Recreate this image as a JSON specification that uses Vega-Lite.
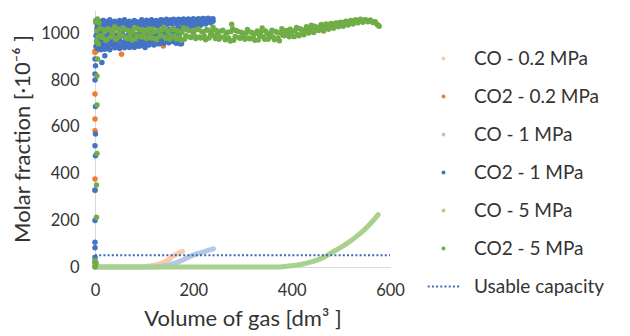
{
  "$schema": "https://vega.github.io/schema/vega-lite/v6.json",
  "width": 295,
  "height": 257,
  "autosize": {"type": "none"},
  "padding": {"left": 95, "top": 10, "right": 240, "bottom": 69},
  "background": "white",
  "config": {
    "view": {"stroke": null},
    "font": "Lato",
    "axis": {"domainColor": "#D9D9D9", "domainWidth": 1, "ticks": false, "grid": false, "labelFlush": false, "labelFont": "Lato", "labelFontSize": 16.5, "labelColor": "#333333", "titleFont": "Lato", "titleFontSize": 22, "titleFontWeight": "normal", "titleColor": "#333333"},
    "legend": {"orient": "none", "legendX": 339, "legendY": 39, "title": null, "labelFont": "Lato", "labelFontSize": 19, "labelColor": "#333333", "labelOffset": 21, "symbolType": "circle", "symbolSize": 16, "rowPadding": 18, "labelLimit": 300}
  },
  "datasets": {
    "co": [
      {"s": "CO - 0.2 MPa", "x": 0, "y": 0}, {"s": "CO - 0.2 MPa", "x": 90, "y": 0}, {"s": "CO - 0.2 MPa", "x": 100, "y": 2}, {"s": "CO - 0.2 MPa", "x": 110, "y": 4}, {"s": "CO - 0.2 MPa", "x": 120, "y": 8}, {"s": "CO - 0.2 MPa", "x": 130, "y": 13}, {"s": "CO - 0.2 MPa", "x": 140, "y": 20}, {"s": "CO - 0.2 MPa", "x": 150, "y": 32}, {"s": "CO - 0.2 MPa", "x": 159, "y": 47}, {"s": "CO - 0.2 MPa", "x": 168, "y": 58}, {"s": "CO - 0.2 MPa", "x": 178, "y": 67},
      {"s": "CO - 1 MPa", "x": 0, "y": 0}, {"s": "CO - 1 MPa", "x": 120, "y": 0}, {"s": "CO - 1 MPa", "x": 130, "y": 2}, {"s": "CO - 1 MPa", "x": 150, "y": 9}, {"s": "CO - 1 MPa", "x": 170, "y": 22}, {"s": "CO - 1 MPa", "x": 185, "y": 36}, {"s": "CO - 1 MPa", "x": 193, "y": 45}, {"s": "CO - 1 MPa", "x": 210, "y": 58}, {"s": "CO - 1 MPa", "x": 225, "y": 68}, {"s": "CO - 1 MPa", "x": 241, "y": 78},
      {"s": "CO - 5 MPa", "x": 0, "y": 0}, {"s": "CO - 5 MPa", "x": 200, "y": 0}, {"s": "CO - 5 MPa", "x": 370, "y": 0}, {"s": "CO - 5 MPa", "x": 385, "y": 2}, {"s": "CO - 5 MPa", "x": 400, "y": 5}, {"s": "CO - 5 MPa", "x": 420, "y": 12}, {"s": "CO - 5 MPa", "x": 440, "y": 22}, {"s": "CO - 5 MPa", "x": 460, "y": 36}, {"s": "CO - 5 MPa", "x": 471, "y": 49}, {"s": "CO - 5 MPa", "x": 490, "y": 72}, {"s": "CO - 5 MPa", "x": 512, "y": 100}, {"s": "CO - 5 MPa", "x": 530, "y": 128}, {"s": "CO - 5 MPa", "x": 546, "y": 156}, {"s": "CO - 5 MPa", "x": 560, "y": 185}, {"s": "CO - 5 MPa", "x": 576, "y": 224}
    ],
    "co2": [
      {"s": "CO2 - 0.2 MPa", "x": 0, "y": 918}, {"s": "CO2 - 0.2 MPa", "x": 0, "y": 740}, {"s": "CO2 - 0.2 MPa", "x": 0, "y": 633}, {"s": "CO2 - 0.2 MPa", "x": 0, "y": 583}, {"s": "CO2 - 0.2 MPa", "x": 0, "y": 377}, {"s": "CO2 - 0.2 MPa", "x": 0, "y": 327}, {"s": "CO2 - 0.2 MPa", "x": 0, "y": 5}, {"s": "CO2 - 0.2 MPa", "x": 1, "y": 15}, {"s": "CO2 - 0.2 MPa", "x": 0, "y": 925},
      {"s": "CO2 - 0.2 MPa", "x": 2, "y": 1045}, {"s": "CO2 - 0.2 MPa", "x": 3, "y": 925}, {"s": "CO2 - 0.2 MPa", "x": 4, "y": 1000}, {"s": "CO2 - 0.2 MPa", "x": 5, "y": 970}, {"s": "CO2 - 0.2 MPa", "x": 6, "y": 1050}, {"s": "CO2 - 0.2 MPa", "x": 8, "y": 960}, {"s": "CO2 - 0.2 MPa", "x": 10, "y": 1020}, {"s": "CO2 - 0.2 MPa", "x": 12, "y": 945}, {"s": "CO2 - 0.2 MPa", "x": 15, "y": 990}, {"s": "CO2 - 0.2 MPa", "x": 18, "y": 1055}, {"s": "CO2 - 0.2 MPa", "x": 20, "y": 960}, {"s": "CO2 - 0.2 MPa", "x": 24, "y": 1010}, {"s": "CO2 - 0.2 MPa", "x": 28, "y": 940}, {"s": "CO2 - 0.2 MPa", "x": 30, "y": 1040}, {"s": "CO2 - 0.2 MPa", "x": 34, "y": 975}, {"s": "CO2 - 0.2 MPa", "x": 38, "y": 1050}, {"s": "CO2 - 0.2 MPa", "x": 41, "y": 939}, {"s": "CO2 - 0.2 MPa", "x": 45, "y": 995}, {"s": "CO2 - 0.2 MPa", "x": 50, "y": 960}, {"s": "CO2 - 0.2 MPa", "x": 54, "y": 911}, {"s": "CO2 - 0.2 MPa", "x": 58, "y": 1020}, {"s": "CO2 - 0.2 MPa", "x": 62, "y": 950}, {"s": "CO2 - 0.2 MPa", "x": 66, "y": 1045}, {"s": "CO2 - 0.2 MPa", "x": 70, "y": 985}, {"s": "CO2 - 0.2 MPa", "x": 75, "y": 955}, {"s": "CO2 - 0.2 MPa", "x": 80, "y": 1050}, {"s": "CO2 - 0.2 MPa", "x": 85, "y": 946}, {"s": "CO2 - 0.2 MPa", "x": 90, "y": 1000}, {"s": "CO2 - 0.2 MPa", "x": 95, "y": 965}, {"s": "CO2 - 0.2 MPa", "x": 100, "y": 1052}, {"s": "CO2 - 0.2 MPa", "x": 105, "y": 955}, {"s": "CO2 - 0.2 MPa", "x": 110, "y": 1015}, {"s": "CO2 - 0.2 MPa", "x": 115, "y": 970}, {"s": "CO2 - 0.2 MPa", "x": 118, "y": 1053}, {"s": "CO2 - 0.2 MPa", "x": 122, "y": 960}, {"s": "CO2 - 0.2 MPa", "x": 126, "y": 1045}, {"s": "CO2 - 0.2 MPa", "x": 130, "y": 1000}, {"s": "CO2 - 0.2 MPa", "x": 134, "y": 1058}, {"s": "CO2 - 0.2 MPa", "x": 139, "y": 946}, {"s": "CO2 - 0.2 MPa", "x": 142, "y": 1050}, {"s": "CO2 - 0.2 MPa", "x": 146, "y": 985}, {"s": "CO2 - 0.2 MPa", "x": 150, "y": 1056}, {"s": "CO2 - 0.2 MPa", "x": 154, "y": 965}, {"s": "CO2 - 0.2 MPa", "x": 158, "y": 1052}, {"s": "CO2 - 0.2 MPa", "x": 162, "y": 1000}, {"s": "CO2 - 0.2 MPa", "x": 166, "y": 1055}, {"s": "CO2 - 0.2 MPa", "x": 170, "y": 975}, {"s": "CO2 - 0.2 MPa", "x": 173, "y": 1053}, {"s": "CO2 - 0.2 MPa", "x": 176, "y": 1020}, {"s": "CO2 - 0.2 MPa", "x": 180, "y": 1050},

      {"s": "CO2 - 1 MPa", "x": 0, "y": 890}, {"s": "CO2 - 1 MPa", "x": 1, "y": 861}, {"s": "CO2 - 1 MPa", "x": 0, "y": 826}, {"s": "CO2 - 1 MPa", "x": 0, "y": 800}, {"s": "CO2 - 1 MPa", "x": 1, "y": 687}, {"s": "CO2 - 1 MPa", "x": 1, "y": 569}, {"s": "CO2 - 1 MPa", "x": 0, "y": 519}, {"s": "CO2 - 1 MPa", "x": 1, "y": 476}, {"s": "CO2 - 1 MPa", "x": 0, "y": 330}, {"s": "CO2 - 1 MPa", "x": 0, "y": 199}, {"s": "CO2 - 1 MPa", "x": 0, "y": 106}, {"s": "CO2 - 1 MPa", "x": 0, "y": 82}, {"s": "CO2 - 1 MPa", "x": 0, "y": 42}, {"s": "CO2 - 1 MPa", "x": 0, "y": 20}, {"s": "CO2 - 1 MPa", "x": 14, "y": 875}, {"s": "CO2 - 1 MPa", "x": 20, "y": 904}, {"s": "CO2 - 1 MPa", "x": 20, "y": 932}, {"s": "CO2 - 1 MPa", "x": 102, "y": 939}, {"s": "CO2 - 1 MPa", "x": 176, "y": 956}, {"s": "CO2 - 1 MPa", "x": 173, "y": 956},
      {"s": "CO2 - 1 MPa", "x": 2, "y": 1055}, {"s": "CO2 - 1 MPa", "x": 2, "y": 990}, {"s": "CO2 - 1 MPa", "x": 2, "y": 945},
      {"s": "CO2 - 1 MPa", "x": 5, "y": 1030}, {"s": "CO2 - 1 MPa", "x": 5, "y": 960}, {"s": "CO2 - 1 MPa", "x": 5, "y": 935},
      {"s": "CO2 - 1 MPa", "x": 8, "y": 1050}, {"s": "CO2 - 1 MPa", "x": 8, "y": 1000}, {"s": "CO2 - 1 MPa", "x": 8, "y": 940},
      {"s": "CO2 - 1 MPa", "x": 12, "y": 1045}, {"s": "CO2 - 1 MPa", "x": 12, "y": 975}, {"s": "CO2 - 1 MPa", "x": 12, "y": 930},
      {"s": "CO2 - 1 MPa", "x": 16, "y": 1055}, {"s": "CO2 - 1 MPa", "x": 16, "y": 1010}, {"s": "CO2 - 1 MPa", "x": 16, "y": 950},
      {"s": "CO2 - 1 MPa", "x": 20, "y": 1040}, {"s": "CO2 - 1 MPa", "x": 20, "y": 960}, {"s": "CO2 - 1 MPa", "x": 20, "y": 935},
      {"s": "CO2 - 1 MPa", "x": 25, "y": 1050}, {"s": "CO2 - 1 MPa", "x": 25, "y": 995}, {"s": "CO2 - 1 MPa", "x": 25, "y": 945},
      {"s": "CO2 - 1 MPa", "x": 30, "y": 1058}, {"s": "CO2 - 1 MPa", "x": 30, "y": 970}, {"s": "CO2 - 1 MPa", "x": 30, "y": 930},
      {"s": "CO2 - 1 MPa", "x": 35, "y": 1045}, {"s": "CO2 - 1 MPa", "x": 35, "y": 1005}, {"s": "CO2 - 1 MPa", "x": 35, "y": 950},
      {"s": "CO2 - 1 MPa", "x": 40, "y": 1052}, {"s": "CO2 - 1 MPa", "x": 40, "y": 965}, {"s": "CO2 - 1 MPa", "x": 40, "y": 938},
      {"s": "CO2 - 1 MPa", "x": 45, "y": 1040}, {"s": "CO2 - 1 MPa", "x": 45, "y": 990}, {"s": "CO2 - 1 MPa", "x": 45, "y": 955},
      {"s": "CO2 - 1 MPa", "x": 50, "y": 1055}, {"s": "CO2 - 1 MPa", "x": 50, "y": 975}, {"s": "CO2 - 1 MPa", "x": 50, "y": 935},
      {"s": "CO2 - 1 MPa", "x": 55, "y": 1048}, {"s": "CO2 - 1 MPa", "x": 55, "y": 1000}, {"s": "CO2 - 1 MPa", "x": 55, "y": 945},
      {"s": "CO2 - 1 MPa", "x": 60, "y": 1058}, {"s": "CO2 - 1 MPa", "x": 60, "y": 960}, {"s": "CO2 - 1 MPa", "x": 60, "y": 938},
      {"s": "CO2 - 1 MPa", "x": 65, "y": 1045}, {"s": "CO2 - 1 MPa", "x": 65, "y": 990}, {"s": "CO2 - 1 MPa", "x": 65, "y": 952},
      {"s": "CO2 - 1 MPa", "x": 70, "y": 1052}, {"s": "CO2 - 1 MPa", "x": 70, "y": 970}, {"s": "CO2 - 1 MPa", "x": 70, "y": 940},
      {"s": "CO2 - 1 MPa", "x": 75, "y": 1040}, {"s": "CO2 - 1 MPa", "x": 75, "y": 1005}, {"s": "CO2 - 1 MPa", "x": 75, "y": 958},
      {"s": "CO2 - 1 MPa", "x": 80, "y": 1055}, {"s": "CO2 - 1 MPa", "x": 80, "y": 980}, {"s": "CO2 - 1 MPa", "x": 80, "y": 940},
      {"s": "CO2 - 1 MPa", "x": 85, "y": 1050}, {"s": "CO2 - 1 MPa", "x": 85, "y": 965}, {"s": "CO2 - 1 MPa", "x": 85, "y": 952},
      {"s": "CO2 - 1 MPa", "x": 90, "y": 1045}, {"s": "CO2 - 1 MPa", "x": 90, "y": 995}, {"s": "CO2 - 1 MPa", "x": 90, "y": 945},
      {"s": "CO2 - 1 MPa", "x": 95, "y": 1058}, {"s": "CO2 - 1 MPa", "x": 95, "y": 975}, {"s": "CO2 - 1 MPa", "x": 95, "y": 960},
      {"s": "CO2 - 1 MPa", "x": 100, "y": 1050}, {"s": "CO2 - 1 MPa", "x": 100, "y": 1000}, {"s": "CO2 - 1 MPa", "x": 100, "y": 945},
      {"s": "CO2 - 1 MPa", "x": 105, "y": 1056}, {"s": "CO2 - 1 MPa", "x": 105, "y": 970}, {"s": "CO2 - 1 MPa", "x": 105, "y": 958},
      {"s": "CO2 - 1 MPa", "x": 110, "y": 1045}, {"s": "CO2 - 1 MPa", "x": 110, "y": 990}, {"s": "CO2 - 1 MPa", "x": 110, "y": 950},
      {"s": "CO2 - 1 MPa", "x": 115, "y": 1058}, {"s": "CO2 - 1 MPa", "x": 115, "y": 980}, {"s": "CO2 - 1 MPa", "x": 115, "y": 962},
      {"s": "CO2 - 1 MPa", "x": 120, "y": 1050}, {"s": "CO2 - 1 MPa", "x": 120, "y": 1000}, {"s": "CO2 - 1 MPa", "x": 120, "y": 950},
      {"s": "CO2 - 1 MPa", "x": 125, "y": 1055}, {"s": "CO2 - 1 MPa", "x": 125, "y": 975}, {"s": "CO2 - 1 MPa", "x": 125, "y": 960},
      {"s": "CO2 - 1 MPa", "x": 130, "y": 1048}, {"s": "CO2 - 1 MPa", "x": 130, "y": 1005}, {"s": "CO2 - 1 MPa", "x": 130, "y": 955},
      {"s": "CO2 - 1 MPa", "x": 135, "y": 1058}, {"s": "CO2 - 1 MPa", "x": 135, "y": 985}, {"s": "CO2 - 1 MPa", "x": 135, "y": 965},
      {"s": "CO2 - 1 MPa", "x": 140, "y": 1052}, {"s": "CO2 - 1 MPa", "x": 140, "y": 1010}, {"s": "CO2 - 1 MPa", "x": 140, "y": 958},
      {"s": "CO2 - 1 MPa", "x": 145, "y": 1060}, {"s": "CO2 - 1 MPa", "x": 145, "y": 990}, {"s": "CO2 - 1 MPa", "x": 145, "y": 968},
      {"s": "CO2 - 1 MPa", "x": 150, "y": 1055}, {"s": "CO2 - 1 MPa", "x": 150, "y": 1015}, {"s": "CO2 - 1 MPa", "x": 150, "y": 960},
      {"s": "CO2 - 1 MPa", "x": 155, "y": 1058}, {"s": "CO2 - 1 MPa", "x": 155, "y": 995}, {"s": "CO2 - 1 MPa", "x": 155, "y": 970},
      {"s": "CO2 - 1 MPa", "x": 160, "y": 1060}, {"s": "CO2 - 1 MPa", "x": 160, "y": 1020}, {"s": "CO2 - 1 MPa", "x": 160, "y": 965},
      {"s": "CO2 - 1 MPa", "x": 165, "y": 1055}, {"s": "CO2 - 1 MPa", "x": 165, "y": 1000}, {"s": "CO2 - 1 MPa", "x": 165, "y": 958},
      {"s": "CO2 - 1 MPa", "x": 170, "y": 1060}, {"s": "CO2 - 1 MPa", "x": 170, "y": 1025}, {"s": "CO2 - 1 MPa", "x": 170, "y": 975},
      {"s": "CO2 - 1 MPa", "x": 175, "y": 1058}, {"s": "CO2 - 1 MPa", "x": 175, "y": 1010},
      {"s": "CO2 - 1 MPa", "x": 180, "y": 1062}, {"s": "CO2 - 1 MPa", "x": 180, "y": 1035},
      {"s": "CO2 - 1 MPa", "x": 185, "y": 1057}, {"s": "CO2 - 1 MPa", "x": 185, "y": 1020},
      {"s": "CO2 - 1 MPa", "x": 190, "y": 1062}, {"s": "CO2 - 1 MPa", "x": 190, "y": 1040},
      {"s": "CO2 - 1 MPa", "x": 195, "y": 1058}, {"s": "CO2 - 1 MPa", "x": 195, "y": 1025},
      {"s": "CO2 - 1 MPa", "x": 200, "y": 1063}, {"s": "CO2 - 1 MPa", "x": 200, "y": 1042},
      {"s": "CO2 - 1 MPa", "x": 205, "y": 1058}, {"s": "CO2 - 1 MPa", "x": 205, "y": 1030},
      {"s": "CO2 - 1 MPa", "x": 210, "y": 1063}, {"s": "CO2 - 1 MPa", "x": 210, "y": 1045},
      {"s": "CO2 - 1 MPa", "x": 215, "y": 1060}, {"s": "CO2 - 1 MPa", "x": 215, "y": 1035},
      {"s": "CO2 - 1 MPa", "x": 220, "y": 1064}, {"s": "CO2 - 1 MPa", "x": 220, "y": 1048},
      {"s": "CO2 - 1 MPa", "x": 225, "y": 1060}, {"s": "CO2 - 1 MPa", "x": 225, "y": 1040},
      {"s": "CO2 - 1 MPa", "x": 230, "y": 1065}, {"s": "CO2 - 1 MPa", "x": 230, "y": 1050},
      {"s": "CO2 - 1 MPa", "x": 235, "y": 1060}, {"s": "CO2 - 1 MPa", "x": 235, "y": 1045},
      {"s": "CO2 - 1 MPa", "x": 240, "y": 1063}, {"s": "CO2 - 1 MPa", "x": 240, "y": 1052},
      {"s": "CO2 - 1 MPa", "x": 4, "y": 1020}, {"s": "CO2 - 1 MPa", "x": 4, "y": 970}, {"s": "CO2 - 1 MPa", "x": 7, "y": 1040}, {"s": "CO2 - 1 MPa", "x": 7, "y": 950}, {"s": "CO2 - 1 MPa", "x": 10, "y": 1010}, {"s": "CO2 - 1 MPa", "x": 10, "y": 960}, {"s": "CO2 - 1 MPa", "x": 14, "y": 1035}, {"s": "CO2 - 1 MPa", "x": 14, "y": 985}, {"s": "CO2 - 1 MPa", "x": 18, "y": 1025}, {"s": "CO2 - 1 MPa", "x": 18, "y": 945},
      {"s": "CO2 - 1 MPa", "x": 22, "y": 1048}, {"s": "CO2 - 1 MPa", "x": 22, "y": 980}, {"s": "CO2 - 1 MPa", "x": 27, "y": 1030}, {"s": "CO2 - 1 MPa", "x": 27, "y": 955}, {"s": "CO2 - 1 MPa", "x": 32, "y": 1040}, {"s": "CO2 - 1 MPa", "x": 32, "y": 990}, {"s": "CO2 - 1 MPa", "x": 37, "y": 1025}, {"s": "CO2 - 1 MPa", "x": 37, "y": 960}, {"s": "CO2 - 1 MPa", "x": 42, "y": 1035}, {"s": "CO2 - 1 MPa", "x": 42, "y": 985},
      {"s": "CO2 - 1 MPa", "x": 47, "y": 1020}, {"s": "CO2 - 1 MPa", "x": 47, "y": 945}, {"s": "CO2 - 1 MPa", "x": 52, "y": 1038}, {"s": "CO2 - 1 MPa", "x": 52, "y": 990}, {"s": "CO2 - 1 MPa", "x": 57, "y": 1028}, {"s": "CO2 - 1 MPa", "x": 57, "y": 960}, {"s": "CO2 - 1 MPa", "x": 62, "y": 1042}, {"s": "CO2 - 1 MPa", "x": 62, "y": 980}, {"s": "CO2 - 1 MPa", "x": 67, "y": 1022}, {"s": "CO2 - 1 MPa", "x": 67, "y": 945},
      {"s": "CO2 - 1 MPa", "x": 72, "y": 1035}, {"s": "CO2 - 1 MPa", "x": 72, "y": 990}, {"s": "CO2 - 1 MPa", "x": 77, "y": 1025}, {"s": "CO2 - 1 MPa", "x": 77, "y": 965}, {"s": "CO2 - 1 MPa", "x": 82, "y": 1040}, {"s": "CO2 - 1 MPa", "x": 82, "y": 995}, {"s": "CO2 - 1 MPa", "x": 87, "y": 1030}, {"s": "CO2 - 1 MPa", "x": 87, "y": 960}, {"s": "CO2 - 1 MPa", "x": 92, "y": 1045}, {"s": "CO2 - 1 MPa", "x": 92, "y": 980},
      {"s": "CO2 - 1 MPa", "x": 97, "y": 1032}, {"s": "CO2 - 1 MPa", "x": 97, "y": 950}, {"s": "CO2 - 1 MPa", "x": 102, "y": 1040}, {"s": "CO2 - 1 MPa", "x": 102, "y": 990}, {"s": "CO2 - 1 MPa", "x": 107, "y": 1028}, {"s": "CO2 - 1 MPa", "x": 107, "y": 965}, {"s": "CO2 - 1 MPa", "x": 112, "y": 1045}, {"s": "CO2 - 1 MPa", "x": 112, "y": 1000}, {"s": "CO2 - 1 MPa", "x": 117, "y": 1035}, {"s": "CO2 - 1 MPa", "x": 117, "y": 968},
      {"s": "CO2 - 1 MPa", "x": 122, "y": 1042}, {"s": "CO2 - 1 MPa", "x": 122, "y": 990}, {"s": "CO2 - 1 MPa", "x": 127, "y": 1030}, {"s": "CO2 - 1 MPa", "x": 127, "y": 968}, {"s": "CO2 - 1 MPa", "x": 132, "y": 1048}, {"s": "CO2 - 1 MPa", "x": 132, "y": 990}, {"s": "CO2 - 1 MPa", "x": 137, "y": 1035}, {"s": "CO2 - 1 MPa", "x": 137, "y": 972}, {"s": "CO2 - 1 MPa", "x": 142, "y": 1045}, {"s": "CO2 - 1 MPa", "x": 142, "y": 995},
      {"s": "CO2 - 1 MPa", "x": 147, "y": 1038}, {"s": "CO2 - 1 MPa", "x": 147, "y": 975}, {"s": "CO2 - 1 MPa", "x": 152, "y": 1048}, {"s": "CO2 - 1 MPa", "x": 152, "y": 1000}, {"s": "CO2 - 1 MPa", "x": 157, "y": 1040}, {"s": "CO2 - 1 MPa", "x": 157, "y": 980}, {"s": "CO2 - 1 MPa", "x": 162, "y": 1050}, {"s": "CO2 - 1 MPa", "x": 162, "y": 1005}, {"s": "CO2 - 1 MPa", "x": 167, "y": 1040}, {"s": "CO2 - 1 MPa", "x": 167, "y": 985},
      {"s": "CO2 - 1 MPa", "x": 172, "y": 1050}, {"s": "CO2 - 1 MPa", "x": 172, "y": 1000}, {"s": "CO2 - 1 MPa", "x": 177, "y": 1045}, {"s": "CO2 - 1 MPa", "x": 182, "y": 1052}, {"s": "CO2 - 1 MPa", "x": 187, "y": 1045}, {"s": "CO2 - 1 MPa", "x": 192, "y": 1055}, {"s": "CO2 - 1 MPa", "x": 197, "y": 1048}, {"s": "CO2 - 1 MPa", "x": 202, "y": 1055}, {"s": "CO2 - 1 MPa", "x": 207, "y": 1050}, {"s": "CO2 - 1 MPa", "x": 212, "y": 1055},
      {"s": "CO2 - 1 MPa", "x": 217, "y": 1050}, {"s": "CO2 - 1 MPa", "x": 222, "y": 1058}, {"s": "CO2 - 1 MPa", "x": 227, "y": 1052}, {"s": "CO2 - 1 MPa", "x": 232, "y": 1058}, {"s": "CO2 - 1 MPa", "x": 237, "y": 1055},

      {"s": "CO2 - 5 MPa", "x": 0, "y": 0}, {"s": "CO2 - 5 MPa", "x": 1, "y": 8}, {"s": "CO2 - 5 MPa", "x": 2, "y": 18}, {"s": "CO2 - 5 MPa", "x": 0, "y": 28}, {"s": "CO2 - 5 MPa", "x": 3, "y": 213}, {"s": "CO2 - 5 MPa", "x": 3, "y": 351}, {"s": "CO2 - 5 MPa", "x": 4, "y": 486}, {"s": "CO2 - 5 MPa", "x": 4, "y": 693}, {"s": "CO2 - 5 MPa", "x": 4, "y": 818}, {"s": "CO2 - 5 MPa", "x": 5, "y": 890}, {"s": "CO2 - 5 MPa", "x": 7, "y": 954}, {"s": "CO2 - 5 MPa", "x": 2, "y": 1050}, {"s": "CO2 - 5 MPa", "x": 5, "y": 1062}, {"s": "CO2 - 5 MPa", "x": 8, "y": 1045}, {"s": "CO2 - 5 MPa", "x": 4, "y": 1010}, {"s": "CO2 - 5 MPa", "x": 6, "y": 985}, {"s": "CO2 - 5 MPa", "x": 3, "y": 965}, {"s": "CO2 - 5 MPa", "x": 278, "y": 1039},
      {"s": "CO2 - 5 MPa", "x": 10, "y": 1022}, {"s": "CO2 - 5 MPa", "x": 15, "y": 982}, {"s": "CO2 - 5 MPa", "x": 20, "y": 1008}, {"s": "CO2 - 5 MPa", "x": 25, "y": 975}, {"s": "CO2 - 5 MPa", "x": 30, "y": 1015}, {"s": "CO2 - 5 MPa", "x": 35, "y": 995}, {"s": "CO2 - 5 MPa", "x": 40, "y": 1028}, {"s": "CO2 - 5 MPa", "x": 45, "y": 980}, {"s": "CO2 - 5 MPa", "x": 50, "y": 1003}, {"s": "CO2 - 5 MPa", "x": 55, "y": 988},
      {"s": "CO2 - 5 MPa", "x": 60, "y": 1018}, {"s": "CO2 - 5 MPa", "x": 65, "y": 978}, {"s": "CO2 - 5 MPa", "x": 70, "y": 1010}, {"s": "CO2 - 5 MPa", "x": 75, "y": 972}, {"s": "CO2 - 5 MPa", "x": 80, "y": 1025}, {"s": "CO2 - 5 MPa", "x": 85, "y": 992}, {"s": "CO2 - 5 MPa", "x": 90, "y": 1014}, {"s": "CO2 - 5 MPa", "x": 95, "y": 984}, {"s": "CO2 - 5 MPa", "x": 100, "y": 1003}, {"s": "CO2 - 5 MPa", "x": 105, "y": 978},
      {"s": "CO2 - 5 MPa", "x": 110, "y": 1020}, {"s": "CO2 - 5 MPa", "x": 115, "y": 980}, {"s": "CO2 - 5 MPa", "x": 120, "y": 1006}, {"s": "CO2 - 5 MPa", "x": 125, "y": 973}, {"s": "CO2 - 5 MPa", "x": 130, "y": 1013}, {"s": "CO2 - 5 MPa", "x": 135, "y": 993}, {"s": "CO2 - 5 MPa", "x": 140, "y": 1026}, {"s": "CO2 - 5 MPa", "x": 145, "y": 978}, {"s": "CO2 - 5 MPa", "x": 150, "y": 1001}, {"s": "CO2 - 5 MPa", "x": 155, "y": 986},
      {"s": "CO2 - 5 MPa", "x": 160, "y": 1016}, {"s": "CO2 - 5 MPa", "x": 165, "y": 976}, {"s": "CO2 - 5 MPa", "x": 170, "y": 1008}, {"s": "CO2 - 5 MPa", "x": 175, "y": 970}, {"s": "CO2 - 5 MPa", "x": 180, "y": 1023}, {"s": "CO2 - 5 MPa", "x": 185, "y": 990}, {"s": "CO2 - 5 MPa", "x": 190, "y": 1012}, {"s": "CO2 - 5 MPa", "x": 195, "y": 982}, {"s": "CO2 - 5 MPa", "x": 200, "y": 1003}, {"s": "CO2 - 5 MPa", "x": 205, "y": 978},
      {"s": "CO2 - 5 MPa", "x": 210, "y": 1020}, {"s": "CO2 - 5 MPa", "x": 215, "y": 980}, {"s": "CO2 - 5 MPa", "x": 220, "y": 1006}, {"s": "CO2 - 5 MPa", "x": 225, "y": 973}, {"s": "CO2 - 5 MPa", "x": 230, "y": 1013}, {"s": "CO2 - 5 MPa", "x": 235, "y": 993}, {"s": "CO2 - 5 MPa", "x": 240, "y": 1026}, {"s": "CO2 - 5 MPa", "x": 245, "y": 978}, {"s": "CO2 - 5 MPa", "x": 250, "y": 998}, {"s": "CO2 - 5 MPa", "x": 255, "y": 983},
      {"s": "CO2 - 5 MPa", "x": 260, "y": 1013}, {"s": "CO2 - 5 MPa", "x": 265, "y": 973}, {"s": "CO2 - 5 MPa", "x": 270, "y": 1005}, {"s": "CO2 - 5 MPa", "x": 275, "y": 967}, {"s": "CO2 - 5 MPa", "x": 280, "y": 1020}, {"s": "CO2 - 5 MPa", "x": 285, "y": 987}, {"s": "CO2 - 5 MPa", "x": 290, "y": 1009}, {"s": "CO2 - 5 MPa", "x": 295, "y": 979}, {"s": "CO2 - 5 MPa", "x": 300, "y": 1000}, {"s": "CO2 - 5 MPa", "x": 305, "y": 975},
      {"s": "CO2 - 5 MPa", "x": 310, "y": 1017}, {"s": "CO2 - 5 MPa", "x": 315, "y": 977}, {"s": "CO2 - 5 MPa", "x": 320, "y": 1003}, {"s": "CO2 - 5 MPa", "x": 325, "y": 970}, {"s": "CO2 - 5 MPa", "x": 330, "y": 1010}, {"s": "CO2 - 5 MPa", "x": 335, "y": 990}, {"s": "CO2 - 5 MPa", "x": 340, "y": 1023}, {"s": "CO2 - 5 MPa", "x": 345, "y": 975}, {"s": "CO2 - 5 MPa", "x": 350, "y": 998}, {"s": "CO2 - 5 MPa", "x": 355, "y": 983},
      {"s": "CO2 - 5 MPa", "x": 360, "y": 1013}, {"s": "CO2 - 5 MPa", "x": 365, "y": 973}, {"s": "CO2 - 5 MPa", "x": 370, "y": 1005}, {"s": "CO2 - 5 MPa", "x": 375, "y": 968}, {"s": "CO2 - 5 MPa", "x": 380, "y": 1020}, {"s": "CO2 - 5 MPa", "x": 385, "y": 990}, {"s": "CO2 - 5 MPa", "x": 390, "y": 1012}, {"s": "CO2 - 5 MPa", "x": 395, "y": 985}, {"s": "CO2 - 5 MPa", "x": 400, "y": 1008}, {"s": "CO2 - 5 MPa", "x": 405, "y": 986},
      {"s": "CO2 - 5 MPa", "x": 410, "y": 1025}, {"s": "CO2 - 5 MPa", "x": 415, "y": 990}, {"s": "CO2 - 5 MPa", "x": 420, "y": 1016}, {"s": "CO2 - 5 MPa", "x": 425, "y": 994}, {"s": "CO2 - 5 MPa", "x": 430, "y": 1028}, {"s": "CO2 - 5 MPa", "x": 435, "y": 1002}, {"s": "CO2 - 5 MPa", "x": 440, "y": 1035}, {"s": "CO2 - 5 MPa", "x": 445, "y": 1004}, {"s": "CO2 - 5 MPa", "x": 450, "y": 1025}, {"s": "CO2 - 5 MPa", "x": 455, "y": 1012},
      {"s": "CO2 - 5 MPa", "x": 460, "y": 1038}, {"s": "CO2 - 5 MPa", "x": 465, "y": 1010}, {"s": "CO2 - 5 MPa", "x": 470, "y": 1040}, {"s": "CO2 - 5 MPa", "x": 475, "y": 1018}, {"s": "CO2 - 5 MPa", "x": 480, "y": 1042}, {"s": "CO2 - 5 MPa", "x": 485, "y": 1022}, {"s": "CO2 - 5 MPa", "x": 490, "y": 1044}, {"s": "CO2 - 5 MPa", "x": 495, "y": 1028}, {"s": "CO2 - 5 MPa", "x": 500, "y": 1048}, {"s": "CO2 - 5 MPa", "x": 505, "y": 1030},
      {"s": "CO2 - 5 MPa", "x": 510, "y": 1052}, {"s": "CO2 - 5 MPa", "x": 515, "y": 1036}, {"s": "CO2 - 5 MPa", "x": 520, "y": 1055}, {"s": "CO2 - 5 MPa", "x": 525, "y": 1040}, {"s": "CO2 - 5 MPa", "x": 530, "y": 1058}, {"s": "CO2 - 5 MPa", "x": 535, "y": 1045}, {"s": "CO2 - 5 MPa", "x": 540, "y": 1060}, {"s": "CO2 - 5 MPa", "x": 545, "y": 1048}, {"s": "CO2 - 5 MPa", "x": 550, "y": 1058}, {"s": "CO2 - 5 MPa", "x": 555, "y": 1050},
      {"s": "CO2 - 5 MPa", "x": 560, "y": 1057}, {"s": "CO2 - 5 MPa", "x": 565, "y": 1046}, {"s": "CO2 - 5 MPa", "x": 570, "y": 1050}, {"s": "CO2 - 5 MPa", "x": 575, "y": 1036}, {"s": "CO2 - 5 MPa", "x": 578, "y": 1030},
      {"s": "CO2 - 5 MPa", "x": 12, "y": 990}, {"s": "CO2 - 5 MPa", "x": 17, "y": 1015}, {"s": "CO2 - 5 MPa", "x": 22, "y": 970}, {"s": "CO2 - 5 MPa", "x": 27, "y": 1020}, {"s": "CO2 - 5 MPa", "x": 32, "y": 985}, {"s": "CO2 - 5 MPa", "x": 37, "y": 1012}, {"s": "CO2 - 5 MPa", "x": 42, "y": 975}, {"s": "CO2 - 5 MPa", "x": 47, "y": 1018}, {"s": "CO2 - 5 MPa", "x": 52, "y": 992}, {"s": "CO2 - 5 MPa", "x": 57, "y": 1024},
      {"s": "CO2 - 5 MPa", "x": 62, "y": 985}, {"s": "CO2 - 5 MPa", "x": 67, "y": 1012}, {"s": "CO2 - 5 MPa", "x": 72, "y": 990}, {"s": "CO2 - 5 MPa", "x": 77, "y": 1008}, {"s": "CO2 - 5 MPa", "x": 82, "y": 977}, {"s": "CO2 - 5 MPa", "x": 87, "y": 1020}, {"s": "CO2 - 5 MPa", "x": 92, "y": 988}, {"s": "CO2 - 5 MPa", "x": 97, "y": 1015}, {"s": "CO2 - 5 MPa", "x": 102, "y": 982}, {"s": "CO2 - 5 MPa", "x": 107, "y": 1012},
      {"s": "CO2 - 5 MPa", "x": 112, "y": 995}, {"s": "CO2 - 5 MPa", "x": 117, "y": 1018}, {"s": "CO2 - 5 MPa", "x": 122, "y": 978}, {"s": "CO2 - 5 MPa", "x": 127, "y": 1010}, {"s": "CO2 - 5 MPa", "x": 132, "y": 988}, {"s": "CO2 - 5 MPa", "x": 137, "y": 1016}, {"s": "CO2 - 5 MPa", "x": 142, "y": 983}, {"s": "CO2 - 5 MPa", "x": 147, "y": 1010}, {"s": "CO2 - 5 MPa", "x": 152, "y": 975}, {"s": "CO2 - 5 MPa", "x": 157, "y": 1020},
      {"s": "CO2 - 5 MPa", "x": 162, "y": 990}, {"s": "CO2 - 5 MPa", "x": 167, "y": 1012}, {"s": "CO2 - 5 MPa", "x": 172, "y": 985}, {"s": "CO2 - 5 MPa", "x": 177, "y": 1005}, {"s": "CO2 - 5 MPa", "x": 182, "y": 975}, {"s": "CO2 - 5 MPa", "x": 187, "y": 1016}, {"s": "CO2 - 5 MPa", "x": 192, "y": 985}, {"s": "CO2 - 5 MPa", "x": 197, "y": 1010}, {"s": "CO2 - 5 MPa", "x": 202, "y": 990}, {"s": "CO2 - 5 MPa", "x": 207, "y": 1015},
      {"s": "CO2 - 5 MPa", "x": 212, "y": 985}, {"s": "CO2 - 5 MPa", "x": 217, "y": 1008}, {"s": "CO2 - 5 MPa", "x": 222, "y": 990}, {"s": "CO2 - 5 MPa", "x": 227, "y": 1015}, {"s": "CO2 - 5 MPa", "x": 232, "y": 980}, {"s": "CO2 - 5 MPa", "x": 237, "y": 1008}, {"s": "CO2 - 5 MPa", "x": 242, "y": 990}, {"s": "CO2 - 5 MPa", "x": 247, "y": 1012}, {"s": "CO2 - 5 MPa", "x": 252, "y": 975}, {"s": "CO2 - 5 MPa", "x": 257, "y": 1010},
      {"s": "CO2 - 5 MPa", "x": 262, "y": 985}, {"s": "CO2 - 5 MPa", "x": 267, "y": 1000}, {"s": "CO2 - 5 MPa", "x": 272, "y": 980}, {"s": "CO2 - 5 MPa", "x": 277, "y": 1008}, {"s": "CO2 - 5 MPa", "x": 282, "y": 970}, {"s": "CO2 - 5 MPa", "x": 287, "y": 1012}, {"s": "CO2 - 5 MPa", "x": 292, "y": 982}, {"s": "CO2 - 5 MPa", "x": 297, "y": 1005}, {"s": "CO2 - 5 MPa", "x": 302, "y": 988}, {"s": "CO2 - 5 MPa", "x": 307, "y": 1002},
      {"s": "CO2 - 5 MPa", "x": 312, "y": 980}, {"s": "CO2 - 5 MPa", "x": 317, "y": 1005}, {"s": "CO2 - 5 MPa", "x": 322, "y": 985}, {"s": "CO2 - 5 MPa", "x": 327, "y": 1000}, {"s": "CO2 - 5 MPa", "x": 332, "y": 972}, {"s": "CO2 - 5 MPa", "x": 337, "y": 1005}, {"s": "CO2 - 5 MPa", "x": 342, "y": 985}, {"s": "CO2 - 5 MPa", "x": 347, "y": 1010}, {"s": "CO2 - 5 MPa", "x": 352, "y": 975}, {"s": "CO2 - 5 MPa", "x": 357, "y": 1002},
      {"s": "CO2 - 5 MPa", "x": 362, "y": 985}, {"s": "CO2 - 5 MPa", "x": 367, "y": 1008}, {"s": "CO2 - 5 MPa", "x": 372, "y": 980}, {"s": "CO2 - 5 MPa", "x": 377, "y": 1002}, {"s": "CO2 - 5 MPa", "x": 382, "y": 992}, {"s": "CO2 - 5 MPa", "x": 387, "y": 1010}, {"s": "CO2 - 5 MPa", "x": 392, "y": 995}, {"s": "CO2 - 5 MPa", "x": 397, "y": 1018}, {"s": "CO2 - 5 MPa", "x": 402, "y": 990}, {"s": "CO2 - 5 MPa", "x": 407, "y": 1012},
      {"s": "CO2 - 5 MPa", "x": 412, "y": 995}, {"s": "CO2 - 5 MPa", "x": 417, "y": 1020}, {"s": "CO2 - 5 MPa", "x": 422, "y": 1000}, {"s": "CO2 - 5 MPa", "x": 427, "y": 1014}, {"s": "CO2 - 5 MPa", "x": 432, "y": 1010}, {"s": "CO2 - 5 MPa", "x": 437, "y": 1022}, {"s": "CO2 - 5 MPa", "x": 442, "y": 1012}, {"s": "CO2 - 5 MPa", "x": 447, "y": 1030}, {"s": "CO2 - 5 MPa", "x": 452, "y": 1018}, {"s": "CO2 - 5 MPa", "x": 457, "y": 1028},
      {"s": "CO2 - 5 MPa", "x": 462, "y": 1022}, {"s": "CO2 - 5 MPa", "x": 467, "y": 1035}, {"s": "CO2 - 5 MPa", "x": 472, "y": 1025}, {"s": "CO2 - 5 MPa", "x": 477, "y": 1038}, {"s": "CO2 - 5 MPa", "x": 482, "y": 1030}, {"s": "CO2 - 5 MPa", "x": 487, "y": 1040}, {"s": "CO2 - 5 MPa", "x": 492, "y": 1034}, {"s": "CO2 - 5 MPa", "x": 497, "y": 1045}, {"s": "CO2 - 5 MPa", "x": 502, "y": 1038}, {"s": "CO2 - 5 MPa", "x": 507, "y": 1046},
      {"s": "CO2 - 5 MPa", "x": 512, "y": 1042}, {"s": "CO2 - 5 MPa", "x": 517, "y": 1050}, {"s": "CO2 - 5 MPa", "x": 522, "y": 1046}, {"s": "CO2 - 5 MPa", "x": 527, "y": 1054}, {"s": "CO2 - 5 MPa", "x": 532, "y": 1050}, {"s": "CO2 - 5 MPa", "x": 537, "y": 1056}, {"s": "CO2 - 5 MPa", "x": 542, "y": 1052}, {"s": "CO2 - 5 MPa", "x": 547, "y": 1056}, {"s": "CO2 - 5 MPa", "x": 552, "y": 1055}, {"s": "CO2 - 5 MPa", "x": 557, "y": 1053},
      {"s": "CO2 - 5 MPa", "x": 562, "y": 1052}, {"s": "CO2 - 5 MPa", "x": 567, "y": 1048}, {"s": "CO2 - 5 MPa", "x": 572, "y": 1042}, {"s": "CO2 - 5 MPa", "x": 576, "y": 1035}
    ],
    "cap": [
      {"s": "Usable capacity", "x": 0, "x2": 600, "y": 50}
    ]
  },
  "layer": [
    {
      "data": {"name": "co"},
      "mark": {"type": "line", "strokeWidth": 5, "strokeCap": "round", "strokeJoin": "round", "interpolate": "monotone"},
      "encoding": {
        "x": {"field": "x", "type": "quantitative", "scale": {"domain": [0, 600], "nice": false}, "axis": {"values": [0, 200, 400, 600], "title": "Volume of gas [dm³ ]", "labelPadding": 15, "titlePadding": 10}},
        "y": {"field": "y", "type": "quantitative", "scale": {"domain": [0, 1100], "nice": false}, "axis": {"values": [0, 200, 400, 600, 800, 1000], "format": "d", "title": "Molar fraction [·10⁻⁶ ]", "labelPadding": 16, "titlePadding": 6}},
        "color": {
          "field": "s", "type": "nominal",
          "scale": {
            "domain": ["CO - 0.2 MPa", "CO2 - 0.2 MPa", "CO - 1 MPa", "CO2 - 1 MPa", "CO - 5 MPa", "CO2 - 5 MPa", "Usable capacity"],
            "range": ["#F8CBAD", "#ED7D31", "#B4C7E7", "#4472C4", "#A9D18E", "#70AD47", "#3E6AB5"]
          },
          "legend": {
            "symbolType": "circle",
            "encode": {
              "symbols": {
                "update": {
                  "shape": {"signal": "datum.value === 'Usable capacity' ? 'stroke' : 'circle'"},
                  "size": {"signal": "datum.value === 'Usable capacity' ? 1000 : 16"},
                  "fill": {"scale": "color", "field": "value"},
                  "stroke": {"scale": "color", "field": "value"},
                  "opacity": {"value": 1},
                  "strokeWidth": {"signal": "datum.value === 'Usable capacity' ? 2 : 0"},
                  "strokeDash": {"signal": "datum.value === 'Usable capacity' ? [2, 2.2] : [1, 0]"}
                }
              }
            }
          }
        },
        "detail": {"field": "s"}
      }
    },
    {
      "data": {"name": "co2"},
      "mark": {"type": "point", "filled": true, "opacity": 1, "size": 30},
      "encoding": {
        "x": {"field": "x", "type": "quantitative"},
        "y": {"field": "y", "type": "quantitative"},
        "color": {"field": "s", "type": "nominal"}
      }
    },
    {
      "data": {"name": "cap"},
      "mark": {"type": "rule", "strokeWidth": 2, "strokeDash": [2, 2.2]},
      "encoding": {
        "x": {"field": "x", "type": "quantitative"},
        "x2": {"field": "x2"},
        "y": {"field": "y", "type": "quantitative"},
        "color": {"field": "s", "type": "nominal"}
      }
    }
  ]
}
